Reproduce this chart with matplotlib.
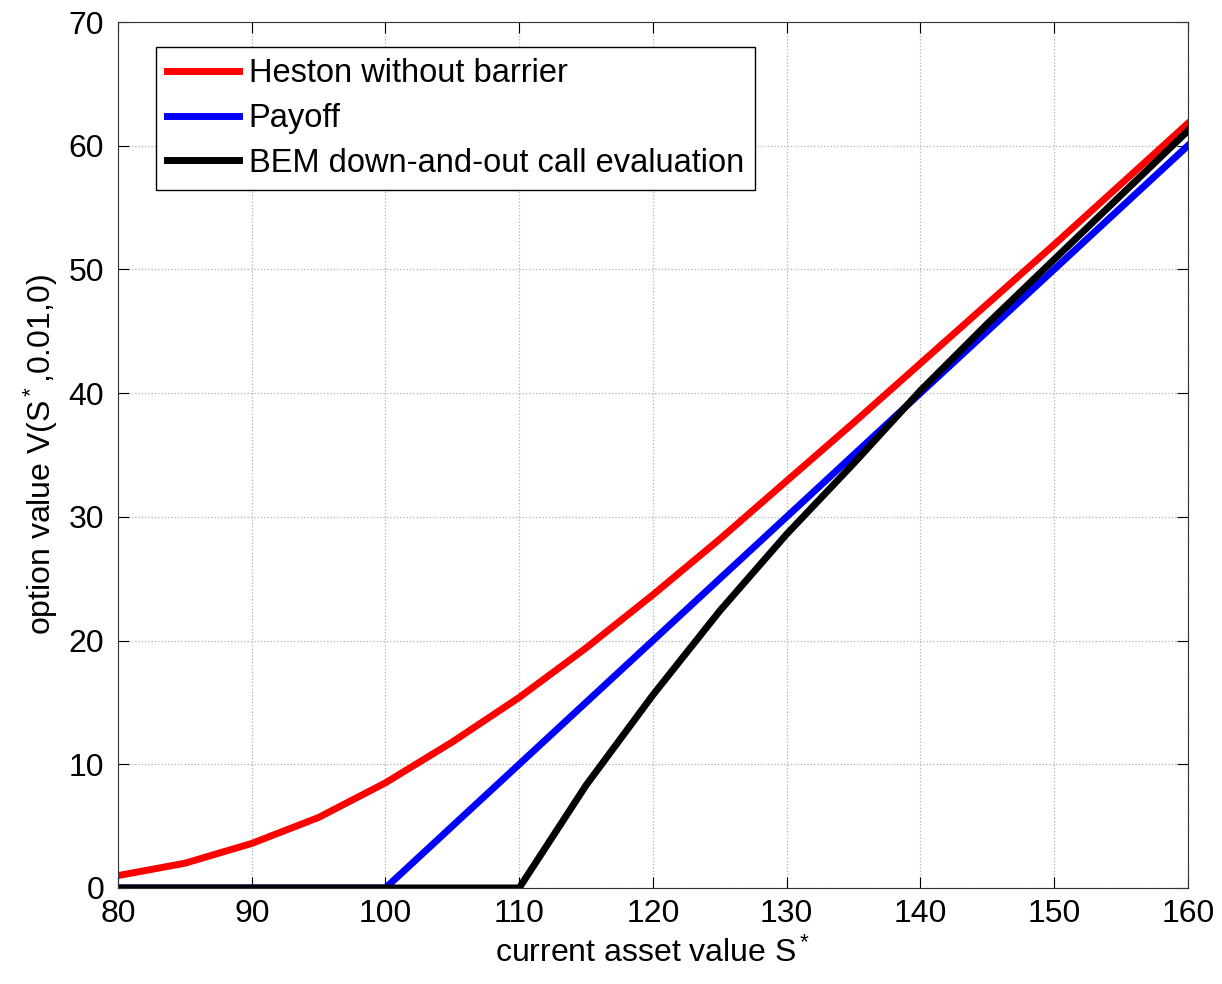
import matplotlib
matplotlib.use('Agg')
import matplotlib.pyplot as plt

plt.rcParams['font.family'] = ['Liberation Sans', 'DejaVu Sans']
plt.rcParams['mathtext.fontset'] = 'custom'
plt.rcParams['mathtext.rm'] = 'Liberation Sans'
plt.rcParams['mathtext.it'] = 'Liberation Sans'

# asset values
s = [80, 85, 90, 95, 100, 105, 110, 115, 120, 125, 130, 135, 140, 145, 150, 155, 160]

# Heston price without barrier
heston = [1.0, 2.0, 3.6, 5.7, 8.5, 11.8, 15.4, 19.4, 23.7, 28.2, 32.9, 37.6, 42.4, 47.2, 52.0, 56.9, 61.8]

# payoff max(S-100, 0)
payoff = [0, 0, 0, 0, 0, 5, 10, 15, 20, 25, 30, 35, 40, 45, 50, 55, 60]

# BEM down-and-out call
bem = [0, 0, 0, 0, 0, 0, 0, 8.3, 15.6, 22.4, 28.6, 34.3, 40.2, 45.6, 50.8, 56.0, 61.2]

fig = plt.figure(figsize=(12.22, 9.84), dpi=100)
ax = fig.add_axes([0.0966, 0.0976, 0.8754, 0.88])

ax.plot(s, heston, color='#ff0000', lw=5, label='Heston without barrier')
ax.plot(s, payoff, color='#0000ff', lw=5, label='Payoff')
ax.plot(s, bem, color='#000000', lw=5, label='BEM down-and-out call evaluation')

ax.set_xlim(80, 160)
ax.set_ylim(0, 70)
ax.set_xticks(range(80, 161, 10))
ax.set_yticks(range(0, 71, 10))
ax.grid(True, linestyle=':', color='#b0b0b0', lw=0.9)
ax.tick_params(direction='in', top=True, right=True, labelsize=23, length=8)
ax.tick_params(axis='x', pad=8)
ax.tick_params(axis='y', pad=10)
for sp in ax.spines.values():
    sp.set_color('#333333')

ax.set_xlabel('current asset value S$^*$', fontsize=23, labelpad=6)
ax.set_ylabel('option value V(S$^*$,0.01,0)', fontsize=23, labelpad=6)

leg = ax.legend(loc='upper left', bbox_to_anchor=(0.02, 0.99), fontsize=23.5,
                fancybox=False, framealpha=1, edgecolor='black',
                handlelength=2.2, handletextpad=0.3, borderpad=0.35, labelspacing=0.42)
leg.get_frame().set_linewidth(1.0)

fig.savefig('out.png', dpi=100)
